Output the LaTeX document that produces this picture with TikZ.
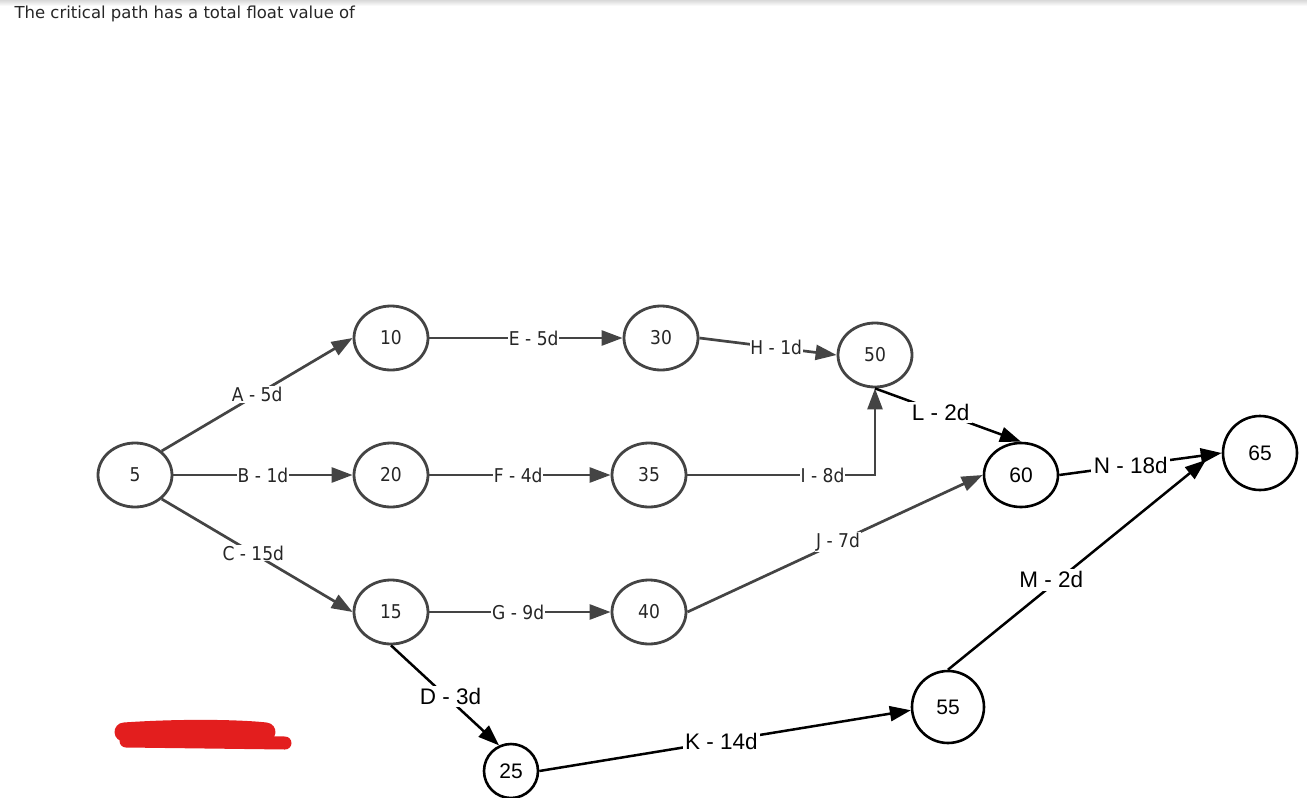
\documentclass[tikz,border=0pt]{standalone}
\usepackage{fontspec}
\setmainfont{DejaVu Sans}
\newfontfamily\condf[FakeStretch=0.9]{DejaVu Sans}
\newfontfamily\arialf{Liberation Sans}
\usetikzlibrary{shapes.geometric,arrows.meta}
\definecolor{gline}{HTML}{444444}
\definecolor{redmark}{HTML}{E31E1E}
\begin{document}
\begin{tikzpicture}[x=1pt,y=-1pt,
  gnode/.style={ellipse,draw=gline,line width=2.8pt,minimum width=74pt,minimum height=64pt,inner sep=0pt,
    font=\condf\fontsize{19}{19}\selectfont,text=black!85},
  bnode/.style={ellipse,draw=black,line width=2.6pt,minimum width=74pt,minimum height=64pt,inner sep=0pt,
    font=\arialf\fontsize{21}{21}\selectfont},
  bcirc/.style={circle,draw=black,line width=2.6pt,minimum size=#1,inner sep=0pt,
    font=\arialf\fontsize{21}{21}\selectfont},
  garrow/.style={draw=gline,line width=2.7pt,-{Triangle[length=21pt,width=15pt]}},
  barrow/.style={draw=black,line width=2.5pt,-{Triangle[length=21pt,width=15pt]}},
  glab/.style={fill=white,inner sep=0.8pt,font=\condf\fontsize{19}{19}\selectfont,text=black!85},
  blab/.style={fill=white,inner sep=2.5pt,font=\arialf\fontsize{22.5}{23}\selectfont}]
\useasboundingbox (0,0) rectangle (1307,798);
\shade[top color=gray!30,bottom color=white] (0,0) rectangle (1307,6);
\node[anchor=west,font=\fontsize{16.5}{17}\selectfont,text=black!85] (title) at (11,14) {The critical path has a total float value of};

% nodes
\node[gnode] (n5) at (135,475) {5};
\node[gnode] (n10) at (391,338) {10};
\node[gnode] (n20) at (391,475) {20};
\node[gnode] (n15) at (391,612) {15};
\node[gnode] (n30) at (661,338) {30};
\node[gnode] (n35) at (649,475) {35};
\node[gnode] (n40) at (649,612) {40};
\node[gnode] (n50) at (875,355) {50};
\node[bnode] (n60) at (1021,475) {60};
\node[bcirc=74pt] (n65) at (1260,453) {65};
\node[bcirc=72pt] (n55) at (948,707) {55};
\node[bcirc=54pt] (n25) at (511,771) {25};
\coordinate (mend) at (1206,460);

% gray edges
\draw[garrow] (n5.42) -- node[glab,pos=0.5] {A - 5d} (n10.west);
\draw[garrow] (n5.east) -- node[glab,pos=0.5] {B - 1d} (n20.west);
\draw[garrow] (n5.-42) -- node[glab,pos=0.48] {C - 15d} (n15.west);
\draw[garrow] (n10.east) -- node[glab,pos=0.54] {E - 5d} (n30.west);
\draw[garrow] (n20.east) -- node[glab,pos=0.49] {F - 4d} (n35.west);
\draw[garrow] (n15.east) -- node[glab,pos=0.49] {G - 9d} (n40.west);
\draw[garrow] (n30.east) -- node[glab,pos=0.56] {H - 1d} (n50.west);
\draw[garrow] (n35.east) -| node[glab,pos=0.36] {I - 8d} (n50.south);
\draw[garrow] (n40.east) -- node[glab,pos=0.51] {J - 7d} (n60.west);

% black edges
\draw[barrow] (n50.south) -- node[blab,pos=0.45] {L - 2d} (n60.north);
\draw[barrow] (n15.south) -- node[blab,pos=0.55,yshift=4pt] {D - 3d} (n25.115);
\draw[barrow] (n25.east) -- node[blab,pos=0.49] {K - 14d} (n55.185);
\draw[barrow] (n55.north) -- node[blab,pos=0.4,yshift=6pt] {M - 2d} (mend);
\draw[barrow] (n60.east) -- node[blab,pos=0.44] {N - 18d} (n65.west);

% red scribble
\draw[redmark,line width=19pt,line cap=round] (124,732) .. controls (180,728) and (240,729) .. (266,732);
\draw[redmark,line width=13pt,line cap=round] (126,741) -- (285,743);
\end{tikzpicture}
\end{document}
